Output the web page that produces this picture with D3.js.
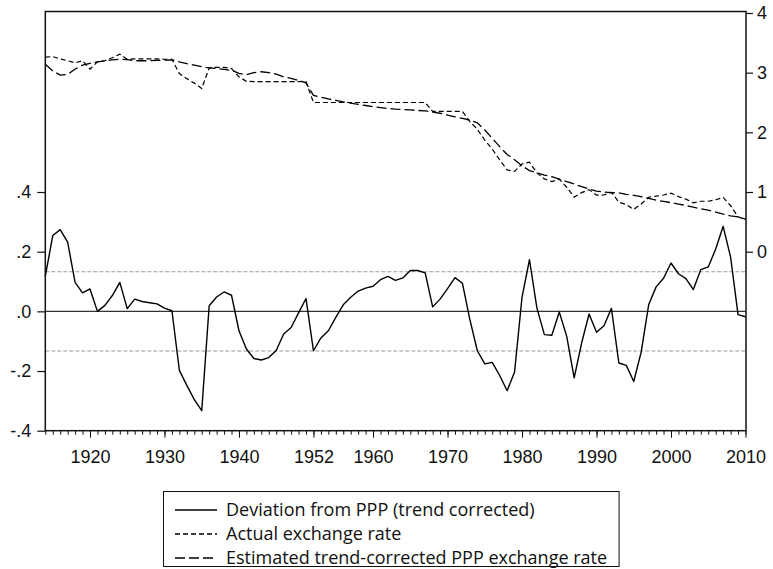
<!DOCTYPE html>
<html><head><meta charset="utf-8">
<script src="https://cdn.jsdelivr.net/npm/d3@7"></script>
<style>
html,body{margin:0;padding:0;background:#fff;}
svg{display:block;}
</style></head>
<body>
<svg id="chart" width="773" height="569"></svg>
<script>
// ---------- DATA ----------
const years = [];
for (let y = 1914; y <= 1944; y++) years.push(y);
for (let y = 1947; y <= 2010; y++) years.push(y);

const xTickLabels = ["1920","1930","1940","1952","1960","1970","1980","1990","2000","2010"];
const leftTickValues = [-0.4, -0.2, 0, 0.2, 0.4];
const leftTickLabels = ["-.4", "-.2", ".0", ".2", ".4"];
const rightTickValues = [0, 1, 2, 3, 4];
const bandValues = [0.133, -0.133];

const deviation = [
 0.117,0.254,0.274,0.232,0.097,0.062,0.075,0.000,0.020,0.053,
 0.097,0.009,0.041,0.033,0.029,0.025,0.011,0.002,-0.198,-0.248,
 -0.296,-0.333,0.019,0.048,0.065,0.054,-0.065,-0.126,-0.158,-0.163,
 -0.155,-0.131,-0.076,-0.054,-0.005,0.043,-0.132,-0.089,-0.065,-0.020,
 0.022,0.047,0.068,0.078,0.084,0.106,0.117,0.104,0.112,0.137,
 0.137,0.129,0.015,0.041,0.076,0.113,0.094,-0.028,-0.132,-0.176,
 -0.171,-0.215,-0.266,-0.203,0.048,0.173,0.011,-0.078,-0.080,-0.002,
 -0.084,-0.223,-0.106,-0.009,-0.070,-0.048,0.010,-0.173,-0.181,-0.235,
 -0.136,0.022,0.082,0.111,0.162,0.126,0.110,0.073,0.140,0.149,
 0.209,0.285,0.182,-0.011,-0.018
];

const actualRate = [
 3.26,3.27,3.23,3.20,3.165,3.20,3.06,3.18,3.20,3.25,
 3.31,3.225,3.23,3.23,3.23,3.23,3.225,3.225,2.985,2.90,
 2.825,2.735,3.08,3.09,3.09,3.07,2.93,2.855,2.85,2.85,
 2.85,2.85,2.85,2.85,2.85,2.85,2.50,2.50,2.50,2.50,
 2.50,2.50,2.50,2.50,2.50,2.50,2.50,2.50,2.50,2.50,
 2.50,2.50,2.35,2.35,2.35,2.35,2.35,2.18,2.05,1.87,
 1.72,1.54,1.37,1.345,1.47,1.50,1.32,1.22,1.175,1.215,
 1.08,0.915,0.99,1.04,0.948,0.95,0.995,0.83,0.79,0.709,
 0.80,0.912,0.93,0.95,0.98,0.922,0.88,0.82,0.845,0.845,
 0.87,0.91,0.77,0.585,0.535
];

const pppRate = [
 3.14,3.03,2.96,2.97,3.06,3.125,3.155,3.18,3.20,3.215,
 3.225,3.22,3.20,3.20,3.20,3.205,3.21,3.215,3.18,3.15,
 3.125,3.10,3.08,3.07,3.055,3.04,2.99,2.965,3.00,3.015,
 3.00,2.975,2.93,2.905,2.87,2.83,2.62,2.59,2.56,2.535,
 2.51,2.49,2.47,2.45,2.43,2.415,2.40,2.39,2.384,2.375,
 2.367,2.36,2.34,2.32,2.29,2.26,2.235,2.205,2.16,2.04,
 1.90,1.76,1.63,1.54,1.44,1.36,1.32,1.284,1.256,1.217,
 1.173,1.134,1.089,1.05,1.016,1.00,0.99,0.985,0.96,0.944,
 0.921,0.893,0.865,0.843,0.821,0.798,0.776,0.745,0.72,0.698,
 0.665,0.631,0.60,0.585,0.547
];

const legendLabels = [
 "Deviation from PPP (trend corrected)",
 "Actual exchange rate",
 "Estimated trend-corrected PPP exchange rate"
];

// ---------- LAYOUT ----------
const L = 45.3, R = 745.5, T = 11.5, B = 430.7, Ytop = 13;
const svg = d3.select("#chart");
const axisFont = "'Liberation Sans', Arial, sans-serif";
const legendFont = "'Open Sans', 'Noto Sans', sans-serif";

const x = d3.scalePoint().domain(years).range([L, R]);
const yL = d3.scaleLinear().domain([-0.4, 1.0]).range([B, Ytop]);
const yR = d3.scaleLinear().domain([-3, 4]).range([B, Ytop]);

// horizontal reference lines
svg.append("line").attr("x1", L).attr("x2", R).attr("y1", yL(0)).attr("y2", yL(0))
  .attr("stroke", "#333").attr("stroke-width", 1.2);
svg.selectAll(".band").data(bandValues).join("line")
  .attr("x1", L).attr("x2", R).attr("y1", d => yL(d)).attr("y2", d => yL(d))
  .attr("stroke", "#9a9a9a").attr("stroke-width", 1.1).attr("stroke-dasharray", "4,2");

// series
const lineL = d3.line().x((d, i) => x(years[i])).y(d => yL(d));
const lineR = d3.line().x((d, i) => x(years[i])).y(d => yR(d));

svg.append("path").datum(pppRate).attr("d", lineR)
  .attr("fill", "none").attr("stroke", "#000").attr("stroke-width", 1.3)
  .attr("stroke-dasharray", "10,4");
svg.append("path").datum(actualRate).attr("d", lineR)
  .attr("fill", "none").attr("stroke", "#000").attr("stroke-width", 1.2)
  .attr("stroke-dasharray", "5,3");
svg.append("path").datum(deviation).attr("d", lineL)
  .attr("fill", "none").attr("stroke", "#000").attr("stroke-width", 1.4)
  .attr("stroke-linejoin", "round");

// frame
svg.append("rect").attr("x", L).attr("y", T).attr("width", R - L + 0.5).attr("height", B - T)
  .attr("fill", "none").attr("stroke", "#111").attr("stroke-width", 1.5);

// x axis: minor ticks every observation, major at labels
const gxMinor = svg.append("g").attr("transform", `translate(0,${B})`)
  .call(d3.axisBottom(x).tickSizeOuter(0).tickSizeInner(4).tickFormat(""));
const majorYears = xTickLabels.map(Number);
const gxMajor = svg.append("g").attr("transform", `translate(0,${B})`)
  .call(d3.axisBottom(x).tickValues(majorYears).tickSizeOuter(0).tickSizeInner(7).tickPadding(13));
[gxMinor, gxMajor].forEach(g => {
  g.select(".domain").remove();
  g.selectAll(".tick line").attr("stroke", "#111").attr("stroke-width", 1);
});
gxMajor.selectAll("text").text((d, i) => xTickLabels[i])
  .attr("font-family", axisFont).attr("font-size", 18).attr("fill", "#111");

// left axis
const gl = svg.append("g").attr("transform", `translate(${L},0)`)
  .call(d3.axisLeft(yL).tickValues(leftTickValues).tickSizeOuter(0).tickSizeInner(8).tickPadding(6)
    .tickFormat((d, i) => leftTickLabels[i]));
gl.select(".domain").remove();
gl.selectAll(".tick line").attr("stroke", "#111").attr("stroke-width", 1.2);
gl.selectAll("text").attr("font-family", axisFont).attr("font-size", 18).attr("fill", "#111");

// right axis
const gr = svg.append("g").attr("transform", `translate(${R + 0.5},0)`)
  .call(d3.axisRight(yR).tickValues(rightTickValues).tickSizeOuter(0).tickSizeInner(7).tickPadding(4)
    .tickFormat(d3.format("d")));
gr.select(".domain").remove();
gr.selectAll(".tick line").attr("stroke", "#111").attr("stroke-width", 1.2);
gr.selectAll("text").attr("font-family", axisFont).attr("font-size", 18).attr("fill", "#111");

// legend
const lg = svg.append("g");
const legendBox = lg.append("rect").attr("x", 163.5).attr("y", 491.5).attr("height", 75)
  .attr("fill", "#fff").attr("stroke", "#111").attr("stroke-width", 1);
const legendDash = [null, "5,3", "10,4"];
const rowY = [510, 534, 558];
let maxW = 0;
legendLabels.forEach((lab, i) => {
  lg.append("line").attr("x1", 175).attr("x2", 217).attr("y1", rowY[i]).attr("y2", rowY[i])
    .attr("stroke", "#000").attr("stroke-width", 1.3)
    .attr("stroke-dasharray", legendDash[i]);
  const t = lg.append("text").attr("x", 226).attr("y", rowY[i]).attr("dy", "0.36em")
    .attr("font-family", legendFont).attr("font-size", 18).attr("fill", "#111").text(lab);
  maxW = Math.max(maxW, t.node().getComputedTextLength());
});
legendBox.attr("width", 226 + maxW + 12 - 163.5);
</script>
</body></html>
